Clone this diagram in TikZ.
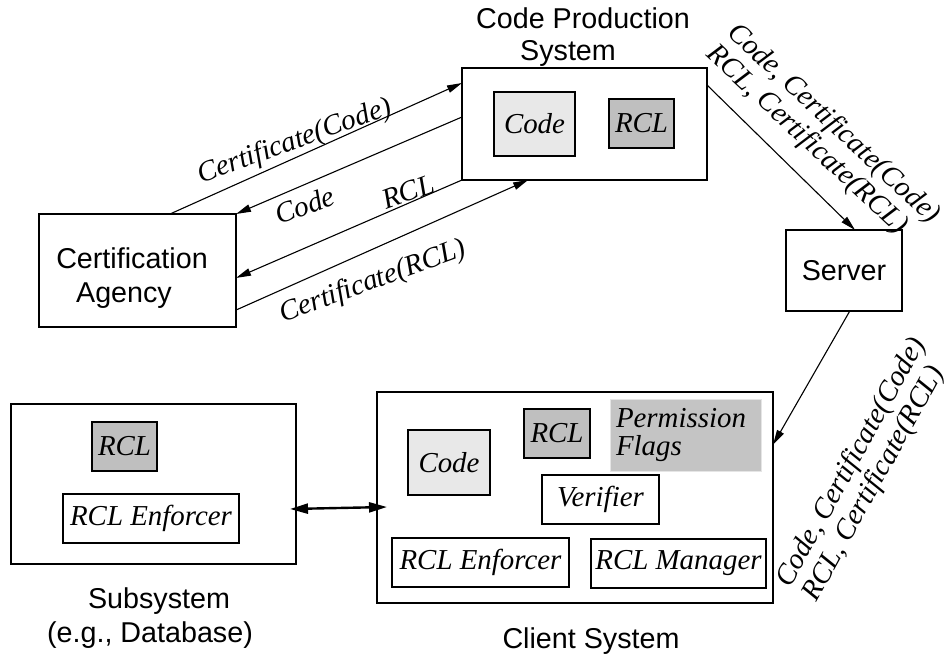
\documentclass[tikz,border=0pt]{standalone}
\usepackage{fontspec}
\setmainfont{Liberation Serif}
\setsansfont{Liberation Sans}
\usetikzlibrary{arrows.meta,calc}
\begin{document}
\begin{tikzpicture}[x=1bp,y=-1bp,
  every node/.style={inner sep=0pt, outer sep=0pt},
  box/.style={draw, line width=1.3bp, rectangle},
  lite/.style={box, fill=black!9},
  dark/.style={box, fill=black!25},
  sanslbl/.style={font=\sffamily\fontsize{28.8}{34}\selectfont, align=center},
  itl/.style={font=\itshape\fontsize{29}{30}\selectfont},
  conn/.style={line width=1.1bp, -{Triangle[length=15bp,width=7.5bp]}},
  dbl/.style={line width=2.4bp, {Triangle[length=18bp,width=10bp]}-{Triangle[length=18bp,width=10bp]}},
]
\useasboundingbox (0,0) rectangle (946,656);

% Code production system
\node[box, minimum width=245bp, minimum height=112bp] (cps) at (584.5,124) {};
\node[lite, itl, minimum width=81bp, minimum height=64bp] (cpscode) at (534.5,124) {Code};
\node[dark, itl, minimum width=65bp, minimum height=49bp] (cpsrcl) at (641.5,123.5) {RCL};
\node[sanslbl, font=\sffamily\fontsize{28.8}{32}\selectfont] (cpstitle) at (583,37) {Code Production\\System\hspace*{30bp}};

% Certification agency
\node[box, minimum width=197bp, minimum height=113bp] (ca) at (137.5,270.5) {};
\node[sanslbl] (catext) at (132,278) {Certification\\Agency\hspace*{16bp}};

% Server
\node[box, minimum width=116bp, minimum height=81bp, font=\sffamily\fontsize{28.8}{34}\selectfont] (server) at (844,270.5) {Server};

% Client system
\node[box, minimum width=396bp, minimum height=211bp] (client) at (575,497.5) {};
\node[lite, itl, minimum width=82bp, minimum height=65bp] (clcode) at (449,462.5) {Code};
\node[dark, itl, minimum width=66bp, minimum height=49bp] (clrcl) at (557,433.5) {RCL};
\node[fill=black!23, draw=black!10, line width=0.6bp, minimum width=151bp, minimum height=72bp,
      text width=139bp, align=left, itl, font=\itshape\fontsize{29}{28}\selectfont] (flags) at (685.5,435) {Permission\\Flags};
\node[box, itl, minimum width=117bp, minimum height=49bp] (verif) at (600.5,499.5) {Verifier};
\node[box, itl, minimum width=177bp, minimum height=49bp] (clenf) at (480.5,562.5) {RCL Enforcer};
\node[box, itl, minimum width=175bp, minimum height=49bp] (clmgr) at (678.5,563.5) {RCL Manager};
\node[sanslbl] (cltitle) at (591,641) {Client System};

% Subsystem
\node[box, minimum width=285bp, minimum height=160bp] (sub) at (153.5,484) {};
\node[dark, itl, minimum width=65bp, minimum height=49bp] (subrcl) at (124.5,446.5) {RCL};
\node[box, itl, minimum width=176bp, minimum height=49bp] (subenf) at (151,518.5) {RCL Enforcer};
\node[sanslbl] (subtitle) at (150,618.5) {\hspace*{18bp}Subsystem\\(e.g., Database)};

% Exchanges between the agency and code production
\draw[conn] ($(ca.north west)!0.665!(ca.north east)$) -- ($(cps.north west)!0.134!(cps.south west)$);
\draw[conn] ($(cps.north west)!0.4375!(cps.south west)$) -- (ca.north east);
\draw[conn] (cps.south west) -- ($(ca.north east)!0.566!(ca.south east)$);
\draw[conn] ($(ca.north east)!0.85!(ca.south east)$) -- ($(cps.south west)!0.27!(cps.south east)$);
\node[itl, rotate=20] (lblcc) at (295,142) {Certificate(Code)};
\node[itl, rotate=20] (lblcode) at (305,205) {Code};
\node[itl, rotate=20] (lblrcl) at (408,192) {RCL};
\node[itl, rotate=20] (lblcr) at (373,282) {Certificate(RCL)};

% Distribution to the server and the client
\draw[conn] ($(cps.north east)!0.152!(cps.south east)$) -- ($(server.north west)!0.595!(server.north east)$);
\node[itl, rotate=-43, align=left] (lblsrv) at (823,135) {Code, Certificate(Code)\\RCL, Certificate(RCL)};
\draw[conn] ($(server.south west)!0.55!(server.south east)$) -- ($(client.north east)!0.25!(client.south east)$);
\node[itl, rotate=61, align=left] (lblcl) at (865,470) {Code, Certificate(Code)\\RCL, Certificate(RCL)};

% Subsystem link
\draw[dbl] ($(sub.east)+(-6,25)$) -- ($(client.west)+(10,9.5)$);
\end{tikzpicture}
\end{document}
